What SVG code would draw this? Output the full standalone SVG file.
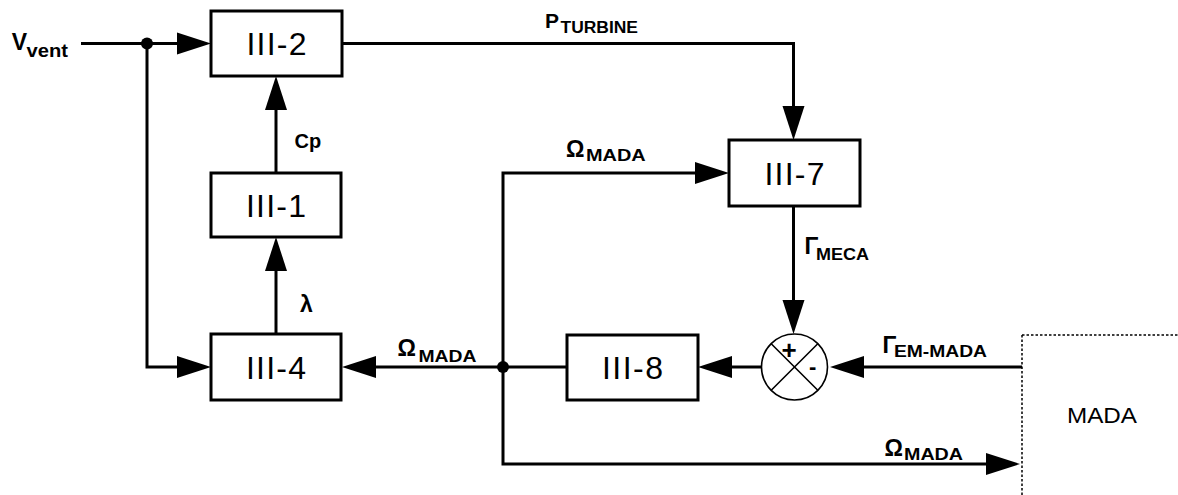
<svg xmlns="http://www.w3.org/2000/svg" width="1178" height="495" viewBox="0 0 1178 495">
<defs>
<style>
.box{fill:#fff;stroke:#000;stroke-width:3}
.bt{font-family:"Liberation Sans",Arial,sans-serif;font-size:32px;fill:#000;text-anchor:middle}
.w{fill:none;stroke:#000;stroke-width:3}
.lb{font-family:"Liberation Sans",Arial,sans-serif;font-weight:bold;fill:#000}
.big{font-size:23px}
.sub{font-size:16px}
.thin{fill:none;stroke:#000;stroke-width:1.6}
.dot{fill:none;stroke:#000;stroke-width:1.5;stroke-dasharray:2.5 2}
</style>
<marker id="ah" viewBox="0 -11 34 22" markerWidth="34" markerHeight="22" refX="0" refY="0" orient="auto" markerUnits="userSpaceOnUse" overflow="visible">
<path d="M0,-11 L34,0 L0,11 z" fill="#000"/>
</marker>
</defs>
<rect width="1178" height="495" fill="#fff"/>

<g id="connectors">
<path class="w" d="M81,43.5 H177" marker-end="url(#ah)"/>
<path class="w" d="M147,43.5 V367 H177" marker-end="url(#ah)"/>
<path class="w" d="M342,43.5 H793.5 V106" marker-end="url(#ah)"/>
<path class="w" d="M276,173 V110" marker-end="url(#ah)"/>
<path class="w" d="M276,334 V271" marker-end="url(#ah)"/>
<path class="w" d="M503,367 V173 H695" marker-end="url(#ah)"/>
<path class="w" d="M793.5,206 V300" marker-end="url(#ah)"/>
<path class="w" d="M1022,367 H864" marker-end="url(#ah)"/>
<path class="w" d="M761.5,367 H732" marker-end="url(#ah)"/>
<path class="w" d="M567,367 H376" marker-end="url(#ah)"/>
<path class="w" d="M503,367 V464 H986" marker-end="url(#ah)"/>
<circle cx="147" cy="43.5" r="6" fill="#000"/>
<circle cx="503" cy="367" r="6" fill="#000"/>
</g>

<g id="III-2"><rect class="box" x="211" y="11" width="131" height="65"/><text class="bt" x="276.5" y="55" textLength="60" lengthAdjust="spacing">III-2</text></g>
<g id="III-1"><rect class="box" x="211" y="173" width="130" height="64"/><text class="bt" x="276" y="216.5" textLength="60" lengthAdjust="spacing">III-1</text></g>
<g id="III-4"><rect class="box" x="211" y="334" width="130" height="66"/><text class="bt" x="276" y="378.5" textLength="60" lengthAdjust="spacing">III-4</text></g>
<g id="III-8"><rect class="box" x="567" y="335" width="131" height="65"/><text class="bt" x="632.5" y="379" textLength="61" lengthAdjust="spacing">III-8</text></g>
<g id="III-7"><rect class="box" x="729" y="140" width="131" height="66"/><text class="bt" x="794.5" y="184.5" textLength="60" lengthAdjust="spacing">III-7</text></g>

<g id="sum">
<circle class="thin" cx="794.5" cy="367" r="33"/>
<path class="thin" d="M771.2,343.7 L817.8,390.3 M817.8,343.7 L771.2,390.3"/>
<text class="lb" x="789" y="358.5" font-size="26" text-anchor="middle">+</text>
<text class="lb" x="812.7" y="374" font-size="22" text-anchor="middle">-</text>
</g>

<g id="MADA">
<path class="dot" d="M1022,335 H1178 M1022,335 V495"/>
<text x="1067" y="423" font-family="Liberation Sans,Arial,sans-serif" font-size="22" textLength="70" lengthAdjust="spacingAndGlyphs" fill="#000">MADA</text>
</g>

<g id="labels">
<text class="lb" x="11.7" y="50" font-size="23">V</text>
<text class="lb" x="26.5" y="57.3" font-size="19" textLength="41.5" lengthAdjust="spacingAndGlyphs">vent</text>
<text class="lb" x="545" y="28.3" font-size="21">P</text>
<text class="lb sub" x="560.5" y="33.3" textLength="77.5" lengthAdjust="spacingAndGlyphs">TURBINE</text>
<text class="lb" x="294.5" y="148" font-size="20">Cp</text>
<text class="lb big" x="300" y="311.7">λ</text>
<text class="lb big" x="397.5" y="356">Ω</text>
<text class="lb sub" x="418.5" y="361.7" textLength="58" lengthAdjust="spacingAndGlyphs">MADA</text>
<text class="lb big" x="566" y="156.7">Ω</text>
<text class="lb sub" x="586" y="160.7" textLength="59.7" lengthAdjust="spacingAndGlyphs">MADA</text>
<text class="lb big" x="884.5" y="456">Ω</text>
<text class="lb sub" x="904" y="459.5" textLength="59" lengthAdjust="spacingAndGlyphs">MADA</text>
<text class="lb big" x="804.5" y="254">Γ</text>
<text class="lb sub" x="816" y="260" textLength="53" lengthAdjust="spacingAndGlyphs">MECA</text>
<text class="lb big" x="882.5" y="353">Γ</text>
<text class="lb sub" x="894" y="357.3" textLength="93" lengthAdjust="spacingAndGlyphs">EM-MADA</text>
</g>
</svg>
